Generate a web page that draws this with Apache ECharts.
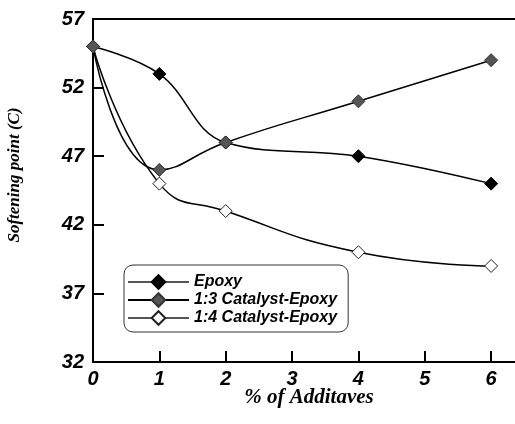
<!DOCTYPE html>
<html>
<head>
<meta charset="utf-8">
<script src="https://cdn.jsdelivr.net/npm/echarts@6/dist/echarts.min.js"></script>
<style>
  html, body { margin: 0; padding: 0; background: #fff; }
  #chart { width: 515px; height: 424px; }
</style>
</head>
<body>
<div id="chart"></div>
<script>
// Additive content (%) and measured softening points (C)
const additives = [0, 1, 2, 4, 6];
const epoxy = [55, 53, 48, 47, 45];
const catalyst13 = [55, 46, 48, 51, 54];
const catalyst14 = [55, 45, 43, 40, 39];

const seriesNames = ['Epoxy', '1:3 Catalyst-Epoxy', '1:4 Catalyst-Epoxy'];
const xTicks = [0, 1, 2, 3, 4, 5, 6];
const yTicks = [32, 37, 42, 47, 52, 57];

const pairs = (ys) => additives.map((x, i) => [x, ys[i]]);

const tickFont = {
  fontFamily: 'Liberation Sans',
  fontWeight: 'bold',
  fontStyle: 'italic',
  fontSize: 20,
  color: '#000'
};

const chart = echarts.init(document.getElementById('chart'));
chart.setOption({
  animation: false,
  backgroundColor: '#fff',
  grid: { left: 93, right: 0, top: 19, bottom: 62 },
  xAxis: [{
    type: 'value',
    min: 0,
    max: 6.36,
    splitLine: { show: false },
    axisLine: { lineStyle: { color: '#000', width: 2 } },
    axisTick: { inside: true, length: 11, customValues: xTicks, lineStyle: { color: '#000', width: 2 } },
    axisLabel: Object.assign({ customValues: xTicks, margin: 7 }, tickFont)
  }, {
    // top frame line
    type: 'value',
    position: 'top',
    min: 0,
    max: 6.36,
    splitLine: { show: false },
    axisLine: { show: true, lineStyle: { color: '#000', width: 2 } },
    axisTick: { show: false },
    axisLabel: { show: false }
  }],
  yAxis: {
    type: 'value',
    min: 32,
    max: 57,
    splitLine: { show: false },
    axisLine: { show: true, lineStyle: { color: '#000', width: 2 } },
    axisTick: { inside: true, length: 11, customValues: yTicks, lineStyle: { color: '#000', width: 2 } },
    axisLabel: Object.assign({ customValues: yTicks, margin: 9 }, tickFont)
  },
  legend: {
    orient: 'vertical',
    left: 124,
    top: 265,
    padding: [9, 11, 6, 3],
    itemWidth: 61,
    itemHeight: 17,
    itemGap: 2,
    borderColor: '#333',
    borderWidth: 1,
    borderRadius: 9,
    backgroundColor: '#fff',
    textStyle: {
      fontFamily: 'Liberation Sans',
      fontWeight: 'bold',
      fontStyle: 'italic',
      fontSize: 16,
      color: '#000'
    },
    data: [
      { name: seriesNames[0], lineStyle: { color: '#555' } },
      { name: seriesNames[1], lineStyle: { color: '#000' } },
      { name: seriesNames[2], lineStyle: { color: '#555' } }
    ]
  },
  graphic: [{
    type: 'text',
    x: 15,
    y: 175,
    rotation: Math.PI / 2,
    style: {
      text: 'Softening point (C)',
      textAlign: 'center',
      textVerticalAlign: 'middle',
      font: 'italic bold 17px "Liberation Serif"',
      fill: '#000'
    }
  }, {
    type: 'text',
    x: 309,
    y: 398,
    style: {
      text: '% of Additaves',
      textAlign: 'center',
      textVerticalAlign: 'middle',
      font: 'italic bold 21px "Liberation Serif"',
      fill: '#000'
    }
  }],
  series: [{
    name: seriesNames[0],
    type: 'line',
    smooth: 0.4,
    data: pairs(epoxy),
    symbol: 'diamond',
    symbolSize: 13,
    lineStyle: { color: '#000', width: 1.5 },
    itemStyle: { color: '#000', borderColor: '#000', borderWidth: 1 },
    z: 2
  }, {
    name: seriesNames[2],
    type: 'line',
    smooth: 0.5,
    data: pairs(catalyst14),
    symbol: 'diamond',
    symbolSize: 13,
    lineStyle: { color: '#000', width: 1.5 },
    itemStyle: { color: '#fff', borderColor: '#222', borderWidth: 1 },
    z: 3
  }, {
    name: seriesNames[1],
    type: 'line',
    smooth: 0.5,
    data: pairs(catalyst13),
    symbol: 'diamond',
    symbolSize: 13,
    lineStyle: { color: '#000', width: 1.5 },
    itemStyle: { color: '#555', borderColor: '#333', borderWidth: 1 },
    z: 4
  }]
});
</script>
</body>
</html>
